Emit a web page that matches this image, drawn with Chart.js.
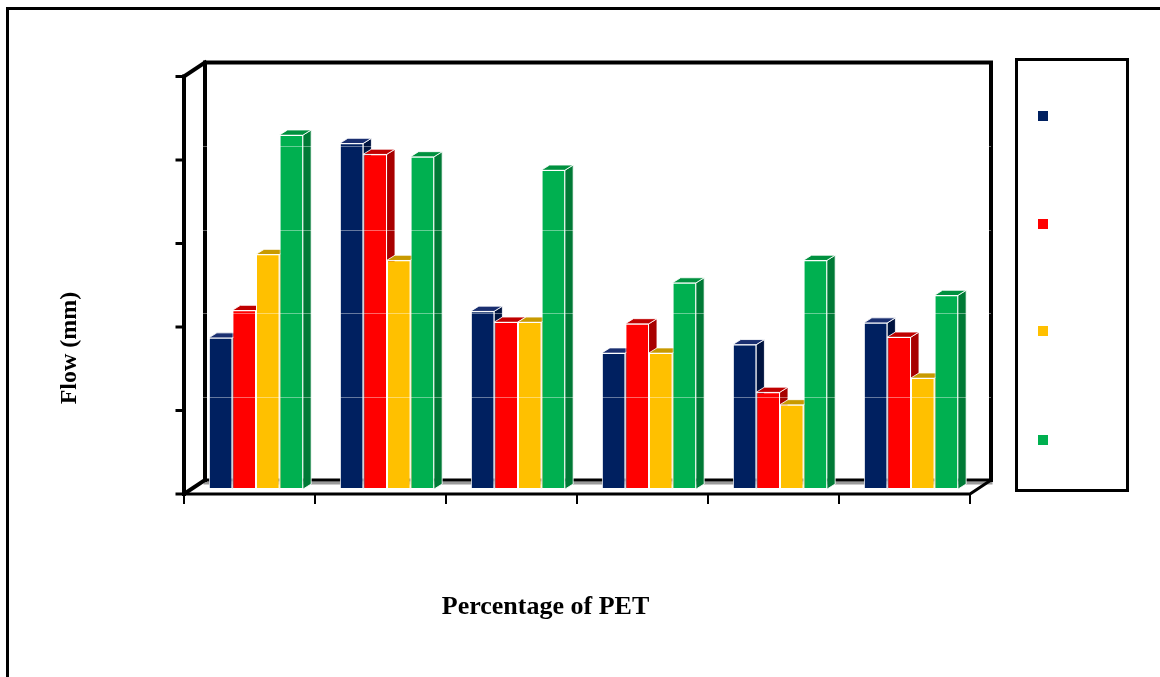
<!DOCTYPE html>
<html>
<head>
<meta charset="utf-8">
<script src="https://cdn.jsdelivr.net/npm/chart.js@4/dist/chart.umd.min.js"></script>
<style>
    html, body { margin: 0; padding: 0; background: #fff; overflow: hidden; }
    #wrap { position: relative; width: 1160px; height: 677px; overflow: hidden; }
    #chart { position: absolute; left: 0; top: 0; }
    #border { position: absolute; left: 6px; top: 7px; width: 1180px; height: 700px; border: 3px solid #000; pointer-events: none; }
    #legend { position: absolute; left: 1015px; top: 58px; width: 108px; height: 428px; border: 3px solid #000; }
    .swatch { position: absolute; left: 20px; width: 10px; height: 10px; }
</style>
</head>
<body>
<div id="wrap">
    <canvas id="chart" width="1160" height="677"></canvas>
    <div id="legend"></div>
    <div id="border"></div>
</div>
<script>
// categories (tick labels are not printed on the picture)
const categories = ['1', '2', '3', '4', '5', '6'];
// series names are empty in the picture legend
const seriesNames = ['', '', '', ''];
// flow values (mm)
const series1 = [1.81, 4.14, 2.13, 1.63, 1.73, 1.99];
const series2 = [2.14, 4.01, 2.00, 1.98, 1.16, 1.82];
const series3 = [2.81, 2.74, 2.00, 1.63, 1.01, 1.33];
const series4 = [4.24, 3.98, 3.82, 2.47, 2.74, 2.32];
const yTicks = [0, 1, 2, 3, 4, 5];

const frontColors = ['#002060', '#ff0000', '#ffc000', '#00b050'];
const sideColors = ['#001440', '#a80000', '#c09000', '#007a36'];
const topColors = ['#1a2f70', '#c00000', '#c89a00', '#00913f'];

// 3d offsets relative to the bar plane
const FRONT_DX = -6.5, FRONT_DY = 5;
const BACK_DX = 14.5, BACK_DY = -9;
const BAR_DX = 8, BAR_DY = -5;

const line = (ctx, pts, w, color) => {
    ctx.beginPath();
    ctx.moveTo(pts[0][0], pts[0][1]);
    for (let i = 1; i < pts.length; i++) ctx.lineTo(pts[i][0], pts[i][1]);
    ctx.lineWidth = w;
    ctx.strokeStyle = color;
    ctx.stroke();
};

const poly = (ctx, pts, fill) => {
    ctx.beginPath();
    ctx.moveTo(pts[0][0], pts[0][1]);
    for (let i = 1; i < pts.length; i++) ctx.lineTo(pts[i][0], pts[i][1]);
    ctx.closePath();
    ctx.fillStyle = fill;
    ctx.fill();
    ctx.lineWidth = 1;
    ctx.strokeStyle = 'rgba(255,255,255,0.85)';
    ctx.stroke();
};

const frame3d = {
    id: 'frame3d',
    beforeDatasetsDraw(chart) {
        const ctx = chart.ctx;
        const ca = chart.chartArea;
        const y = chart.scales.y;
        const x = chart.scales.x;
        const y0 = y.getPixelForValue(yTicks[0]);
        const yTop = y.getPixelForValue(yTicks[yTicks.length - 1]);
        const fl = ca.left + FRONT_DX, fr = ca.right + FRONT_DX;
        const fb = y0 + FRONT_DY, ft = yTop + FRONT_DY;
        const bl = ca.left + BACK_DX, br = ca.right + BACK_DX;
        const bb = y0 + BACK_DY, bt = yTop + BACK_DY;

        ctx.save();
        ctx.lineCap = 'square';
        // back floor edge with shadow
        line(ctx, [[bl, bb + 3], [br, bb + 3]], 3, '#9a9a9a');
        line(ctx, [[bl, bb], [br, bb]], 3, '#000');
        // back wall
        line(ctx, [[bl, bb], [bl, bt], [br, bt], [br, bb]], 4, '#000');
        // left wall top edge and front axis
        line(ctx, [[fl, ft], [bl, bt]], 4, '#000');
        line(ctx, [[fl, ft], [fl, fb]], 4, '#000');
        line(ctx, [[fl, fb], [bl, bb]], 4, '#000');
        // front floor edge
        line(ctx, [[fl, fb], [fr, fb], [br, bb]], 3, '#000');
        // y ticks
        yTicks.forEach(v => {
            const py = y.getPixelForValue(v) + FRONT_DY;
            line(ctx, [[fl - 7, py], [fl, py]], 3, '#000');
        });
        // x ticks at category boundaries
        for (let i = 0; i <= categories.length; i++) {
            const px = (i === categories.length)
                ? fr
                : x.getPixelForValue(i) - (x.getPixelForValue(1) - x.getPixelForValue(0)) / 2 + FRONT_DX;
            line(ctx, [[px, fb], [px, fb + 9]], 2, '#000');
        }

        // side and top faces of the bars
        chart.data.datasets.forEach((ds, d) => {
            const meta = chart.getDatasetMeta(d);
            meta.data.forEach(el => {
                const p = el.getProps(['x', 'y', 'base', 'width'], true);
                const l = p.x - p.width / 2, r = p.x + p.width / 2;
                poly(ctx, [[r, p.y], [r + BAR_DX, p.y + BAR_DY], [r + BAR_DX, p.base + BAR_DY], [r, p.base]], sideColors[d]);
                poly(ctx, [[l, p.y], [l + BAR_DX, p.y + BAR_DY], [r + BAR_DX, p.y + BAR_DY], [r, p.y]], topColors[d]);
            });
        });
        ctx.restore();
    },
    afterDatasetsDraw(chart) {
        const ctx = chart.ctx;
        const ca = chart.chartArea;
        const y = chart.scales.y;
        ctx.save();
        // back wall grid lines show through as faint white lines
        yTicks.slice(1, -1).forEach(v => {
            const py = Math.round(y.getPixelForValue(v) + BACK_DY) + 0.5;
            line(ctx, [[ca.left + BACK_DX - 10, py], [ca.right + BACK_DX, py]], 1, 'rgba(255,255,255,0.4)');
        });
        // axis titles
        ctx.fillStyle = '#000';
        ctx.textAlign = 'center';
        ctx.textBaseline = 'middle';
        ctx.font = 'bold 26px "Liberation Serif", "Times New Roman", serif';
        ctx.fillText('Percentage of PET', ca.left + 355, 607);
        ctx.font = 'bold 24px "Liberation Serif", "Times New Roman", serif';
        ctx.translate(70, 348);
        ctx.rotate(-Math.PI / 2);
        ctx.fillText('Flow (mm)', 0, 0);
        ctx.restore();
    }
};

const allSeries = [series1, series2, series3, series4];

const ctx = document.getElementById('chart').getContext('2d');
const chart = new Chart(ctx, {
    type: 'bar',
    data: {
        labels: categories,
        datasets: allSeries.map((vals, i) => ({
            label: seriesNames[i],
            data: vals,
            backgroundColor: frontColors[i],
            borderColor: '#ffffff',
            borderWidth: 1,
            borderSkipped: false,
            categoryPercentage: 0.72,
            barPercentage: 1
        }))
    },
    options: {
        responsive: false,
        animation: false,
        layout: { padding: { left: 0, right: 183.5, top: 71.5, bottom: 0 } },
        plugins: {
            legend: { display: false },
            tooltip: { enabled: false }
        },
        scales: {
            x: {
                ticks: { display: false },
                grid: { display: false },
                border: { display: false },
                afterFit: s => { s.height = 188; }
            },
            y: {
                min: 0,
                max: 5,
                ticks: { display: false, stepSize: 1 },
                grid: { display: false },
                border: { display: false },
                afterFit: s => { s.width = 190.5; }
            }
        }
    },
    plugins: [frame3d]
});

// legend box with coloured squares only
const legendBox = document.getElementById('legend');
const legendTops = [50, 158, 265, 374];
chart.data.datasets.forEach((ds, i) => {
    const sw = document.createElement('div');
    sw.className = 'swatch';
    sw.style.top = legendTops[i] + 'px';
    sw.style.background = ds.backgroundColor;
    sw.title = ds.label;
    legendBox.appendChild(sw);
});
</script>
</body>
</html>
